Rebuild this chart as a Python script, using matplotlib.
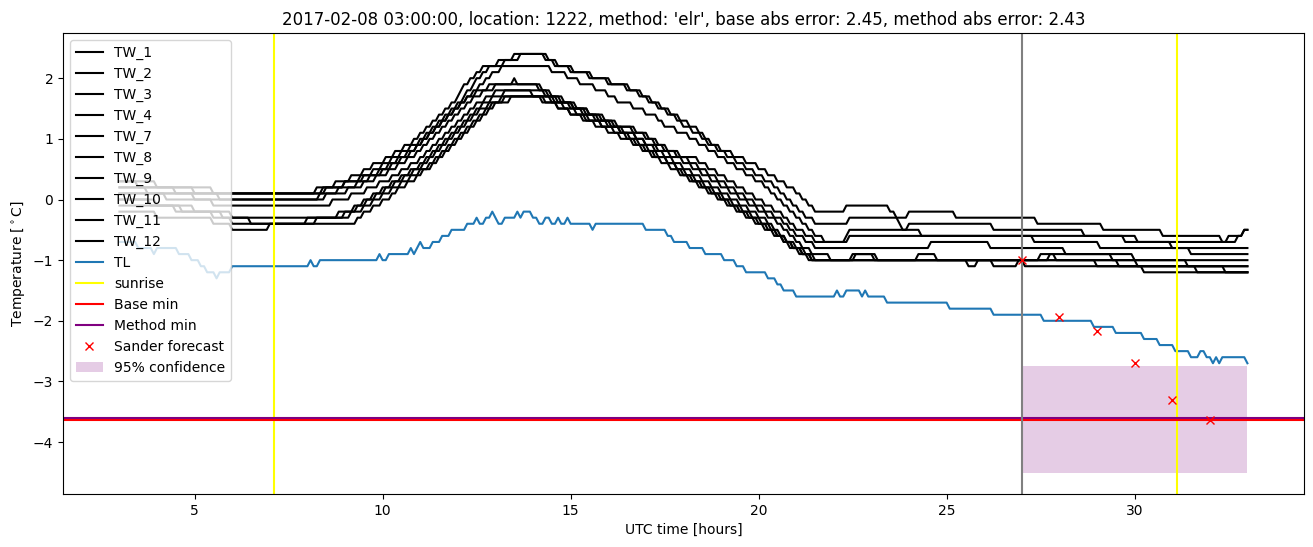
import numpy as np
import matplotlib
matplotlib.use("Agg")
import matplotlib.pyplot as plt

# 5-minute samples from 03:00 to 33:00 UTC (hours since 2017-02-07 00:00)
START, END, PER_HOUR = 3.0, 33.0, 12

# each series: (hour where the value starts, temperature) change points
TW_1 = [(3.0, 0.3), (3.5, 0.2), (5.0, 0.1), (8.25, 0.2), (8.75, 0.3), (9.17, 0.4), (9.5, 0.5),
        (9.75, 0.6), (10.08, 0.7), (10.33, 0.8), (10.58, 0.9), (10.83, 1.0), (11.0, 1.1),
        (11.17, 1.2), (11.33, 1.3), (11.5, 1.4), (11.67, 1.5), (11.83, 1.6), (12.0, 1.7),
        (12.08, 1.8), (12.17, 1.9), (12.33, 2.0), (12.5, 2.1), (12.67, 2.2), (13.08, 2.3),
        (13.5, 2.4), (14.42, 2.3), (14.67, 2.2), (15.08, 2.1), (15.58, 2.0), (16.08, 1.9),
        (16.58, 1.8), (16.92, 1.7), (17.17, 1.6), (17.42, 1.5), (17.67, 1.4), (17.92, 1.3),
        (18.17, 1.2), (18.42, 1.1), (18.58, 1.0), (18.75, 0.9), (19.0, 0.8), (19.33, 0.7),
        (19.67, 0.6), (20.0, 0.5), (20.25, 0.4), (20.5, 0.3), (20.75, 0.2), (21.0, 0.1),
        (21.17, 0.0), (21.33, -0.1), (21.5, -0.2), (22.33, -0.1), (23.5, -0.2), (23.67, -0.3),
        (24.0, -0.2), (25.25, -0.3), (27.42, -0.4), (29.17, -0.5), (30.75, -0.6), (32.33, -0.7),
        (32.5, -0.6), (32.92, -0.5)]
TW_2 = [(3.0, 0.3), (4.0, 0.2), (5.5, 0.1), (8.5, 0.2), (9.0, 0.3), (9.42, 0.4), (9.75, 0.5),
        (10.0, 0.6), (10.25, 0.7), (10.5, 0.8), (10.75, 0.9), (11.0, 1.0), (11.17, 1.1),
        (11.33, 1.2), (11.5, 1.3), (11.67, 1.4), (11.83, 1.5), (12.0, 1.6), (12.17, 1.7),
        (12.25, 1.8), (12.42, 1.9), (12.5, 2.0), (12.67, 2.1), (12.83, 2.2), (13.25, 2.3),
        (13.67, 2.4), (14.33, 2.3), (14.58, 2.2), (15.0, 2.1), (15.5, 2.0), (16.0, 1.9),
        (16.5, 1.8), (16.83, 1.7), (17.08, 1.6), (17.33, 1.5), (17.58, 1.4), (17.83, 1.3),
        (18.0, 1.2), (18.25, 1.1), (18.5, 1.0), (18.67, 0.9), (18.92, 0.8), (19.17, 0.7),
        (19.42, 0.6), (19.67, 0.5), (19.92, 0.4), (20.17, 0.3), (20.42, 0.2), (20.58, 0.1),
        (20.75, 0.0), (20.92, -0.1), (21.08, -0.2), (21.25, -0.3), (21.5, -0.4), (22.42, -0.3),
        (23.75, -0.4), (23.83, -0.5), (24.0, -0.4), (26.25, -0.5), (28.67, -0.6), (29.75, -0.7),
        (31.0, -0.8)]
TW_3 = [(3.0, 0.2), (4.5, 0.1), (5.67, 0.0), (8.33, 0.1), (8.83, 0.2), (9.33, 0.3), (9.67, 0.4),
        (10.0, 0.5), (10.25, 0.6), (10.5, 0.7), (10.75, 0.8), (10.92, 0.9), (11.08, 1.0),
        (11.25, 1.1), (11.42, 1.2), (11.58, 1.3), (11.75, 1.4), (11.92, 1.5), (12.08, 1.6),
        (12.25, 1.7), (12.42, 1.8), (12.58, 1.9), (12.75, 2.0), (12.92, 2.1), (13.17, 2.2),
        (14.5, 2.1), (14.92, 2.0), (15.25, 1.9), (15.67, 1.8), (16.0, 1.7), (16.25, 1.6),
        (16.67, 1.5), (17.0, 1.4), (17.33, 1.3), (17.5, 1.2), (17.83, 1.1), (18.17, 1.0),
        (18.42, 0.9), (18.67, 0.8), (18.92, 0.7), (19.17, 0.6), (19.42, 0.5), (19.67, 0.4),
        (19.92, 0.3), (20.17, 0.2), (20.33, 0.1), (20.5, 0.0), (20.67, -0.1), (20.83, -0.2),
        (21.0, -0.3), (21.17, -0.4), (21.33, -0.5), (21.5, -0.6), (21.75, -0.7), (22.33, -0.6),
        (22.42, -0.5), (24.33, -0.6), (30.08, -0.7), (32.75, -0.6), (32.92, -0.5)]
TW_4 = [(3.0, 0.2), (3.75, 0.1), (8.42, 0.2), (9.0, 0.3), (9.5, 0.4), (9.92, 0.5), (10.17, 0.6),
        (10.42, 0.7), (10.67, 0.8), (10.92, 0.9), (11.08, 1.0), (11.25, 1.1), (11.42, 1.2),
        (11.58, 1.3), (11.75, 1.4), (11.92, 1.5), (12.08, 1.6), (12.25, 1.7), (12.5, 1.8),
        (12.83, 1.9), (13.5, 2.0), (13.58, 1.9), (14.25, 1.8), (14.5, 1.7), (14.83, 1.6),
        (15.17, 1.5), (15.5, 1.4), (15.83, 1.3), (16.17, 1.2), (16.67, 1.1), (17.0, 1.0),
        (17.25, 0.9), (17.5, 0.8), (17.83, 0.7), (18.42, 0.6), (18.67, 0.5), (18.92, 0.4),
        (19.17, 0.3), (19.42, 0.2), (19.67, 0.1), (19.92, 0.0), (20.17, -0.1), (20.42, -0.2),
        (20.67, -0.3), (20.83, -0.4), (21.0, -0.5), (21.25, -0.6), (21.5, -0.7), (22.42, -0.6),
        (27.33, -0.7), (29.08, -0.8), (31.5, -0.9)]
TW_7 = [(3.0, 0.1), (5.0, 0.0), (8.5, 0.1), (9.08, 0.2), (9.5, 0.3), (9.83, 0.4), (10.17, 0.5),
        (10.42, 0.6), (10.67, 0.7), (10.92, 0.8), (11.08, 0.9), (11.25, 1.0), (11.42, 1.1),
        (11.58, 1.2), (11.75, 1.3), (11.92, 1.4), (12.08, 1.5), (12.25, 1.6), (12.42, 1.7),
        (12.67, 1.8), (13.0, 1.9), (14.17, 1.8), (14.42, 1.7), (14.75, 1.6), (15.08, 1.5),
        (15.5, 1.4), (15.92, 1.3), (16.25, 1.2), (16.75, 1.1), (17.08, 1.0), (17.33, 0.9),
        (17.58, 0.8), (17.92, 0.7), (18.17, 0.6), (18.42, 0.5), (18.67, 0.4), (18.92, 0.3),
        (19.17, 0.2), (19.42, 0.1), (19.67, 0.0), (19.92, -0.1), (20.17, -0.2), (20.42, -0.3),
        (20.67, -0.4), (20.83, -0.5), (21.0, -0.6), (21.25, -0.7), (21.5, -0.8), (24.58, -0.7),
        (26.17, -0.8), (28.17, -0.9), (29.42, -1.0)]
TW_8 = [(3.0, 0.1), (4.25, 0.0), (5.5, -0.1), (8.67, 0.0), (9.17, 0.1), (9.58, 0.2), (9.92, 0.3),
        (10.25, 0.4), (10.5, 0.5), (10.75, 0.6), (11.0, 0.7), (11.17, 0.8), (11.33, 0.9),
        (11.5, 1.0), (11.67, 1.1), (11.83, 1.2), (12.0, 1.3), (12.17, 1.4), (12.33, 1.5),
        (12.5, 1.6), (12.75, 1.7), (13.0, 1.8), (14.0, 1.7), (14.33, 1.6), (14.67, 1.5),
        (15.0, 1.4), (15.42, 1.3), (15.83, 1.2), (16.33, 1.1), (16.75, 1.0), (17.0, 0.9),
        (17.33, 0.8), (17.67, 0.7), (18.0, 0.6), (18.25, 0.5), (18.5, 0.4), (18.75, 0.3),
        (19.0, 0.2), (19.25, 0.1), (19.5, 0.0), (19.75, -0.1), (20.0, -0.2), (20.25, -0.3),
        (20.5, -0.4), (20.67, -0.5), (20.83, -0.6), (21.0, -0.7), (21.17, -0.8), (21.42, -0.9),
        (21.92, -1.0), (27.5, -0.9), (30.0, -1.0), (31.42, -1.1)]
TW_9 = [(3.0, 0.0), (4.0, -0.1), (5.0, -0.2), (6.0, -0.3), (8.83, -0.2), (9.25, -0.1), (9.5, 0.0),
        (9.75, 0.1), (10.0, 0.2), (10.25, 0.3), (10.5, 0.4), (10.75, 0.5), (11.0, 0.6),
        (11.17, 0.7), (11.33, 0.8), (11.5, 0.9), (11.67, 1.0), (11.83, 1.1), (12.0, 1.2),
        (12.17, 1.3), (12.33, 1.4), (12.5, 1.5), (12.67, 1.6), (12.92, 1.7), (13.25, 1.8),
        (14.33, 1.7), (14.67, 1.6), (15.08, 1.5), (15.42, 1.4), (15.75, 1.3), (16.08, 1.2),
        (16.42, 1.1), (16.75, 1.0), (17.0, 0.9), (17.25, 0.8), (17.5, 0.7), (17.75, 0.6),
        (18.0, 0.5), (18.25, 0.4), (18.5, 0.3), (18.75, 0.2), (19.0, 0.1), (19.25, 0.0),
        (19.5, -0.1), (19.75, -0.2), (20.0, -0.3), (20.25, -0.4), (20.42, -0.5), (20.58, -0.6),
        (20.75, -0.7), (20.92, -0.8), (21.17, -0.9), (21.42, -1.0), (22.5, -0.9), (23.17, -1.0),
        (25.58, -1.1), (25.83, -1.0), (26.25, -1.1), (26.92, -1.0), (27.08, -1.1), (30.25, -1.2)]
TW_10 = [(3.0, 0.0), (3.83, -0.1), (4.67, -0.2), (5.5, -0.3), (6.0, -0.4), (8.0, -0.3), (9.0, -0.2),
         (9.33, -0.1), (9.58, 0.0), (9.83, 0.1), (10.08, 0.2), (10.33, 0.3), (10.58, 0.4),
         (10.83, 0.5), (11.08, 0.6), (11.25, 0.7), (11.42, 0.8), (11.58, 0.9), (11.75, 1.0),
         (11.92, 1.1), (12.08, 1.2), (12.25, 1.3), (12.42, 1.4), (12.58, 1.5), (12.83, 1.6),
         (13.17, 1.7), (14.5, 1.6), (14.83, 1.5), (15.17, 1.4), (15.5, 1.3), (15.83, 1.2),
         (16.17, 1.1), (16.5, 1.0), (16.75, 0.9), (17.0, 0.8), (17.25, 0.7), (17.58, 0.6),
         (17.83, 0.5), (18.08, 0.4), (18.33, 0.3), (18.58, 0.2), (18.83, 0.1), (19.08, 0.0),
         (19.33, -0.1), (19.58, -0.2), (19.83, -0.3), (20.08, -0.4), (20.33, -0.5), (20.5, -0.6),
         (20.67, -0.7), (20.83, -0.8), (21.08, -0.9), (21.33, -1.0), (27.75, -0.9), (27.92, -1.0),
         (30.08, -1.1), (31.67, -1.2)]
TW_11 = [(3.0, -0.1), (4.5, -0.2), (5.75, -0.3), (6.5, -0.4), (8.25, -0.3), (9.17, -0.2), (9.5, -0.1),
         (9.75, 0.0), (10.0, 0.1), (10.25, 0.2), (10.5, 0.3), (10.75, 0.4), (11.0, 0.5),
         (11.25, 0.6), (11.42, 0.7), (11.58, 0.8), (11.75, 0.9), (11.92, 1.0), (12.08, 1.1),
         (12.25, 1.2), (12.42, 1.3), (12.58, 1.4), (12.75, 1.5), (12.92, 1.6), (13.25, 1.7),
         (14.58, 1.6), (15.0, 1.5), (15.33, 1.4), (15.67, 1.3), (16.0, 1.2), (16.33, 1.1),
         (16.58, 1.0), (16.83, 0.9), (17.08, 0.8), (17.33, 0.7), (17.58, 0.6), (17.83, 0.5),
         (18.0, 0.4), (18.25, 0.3), (18.5, 0.2), (18.75, 0.1), (19.0, 0.0), (19.25, -0.1),
         (19.5, -0.2), (19.75, -0.3), (20.0, -0.4), (20.25, -0.5), (20.5, -0.6), (20.75, -0.7),
         (21.0, -0.8), (21.25, -0.9), (21.5, -1.0), (22.58, -0.9), (23.08, -1.0), (24.25, -0.9),
         (24.75, -1.0), (29.0, -1.1)]
TW_12 = [(3.0, -0.2), (4.0, -0.3), (5.5, -0.4), (6.0, -0.5), (7.0, -0.4), (9.33, -0.3), (9.5, -0.2),
         (9.75, -0.1), (10.0, 0.0), (10.25, 0.1), (10.42, 0.2), (10.67, 0.3), (10.92, 0.4),
         (11.08, 0.5), (11.33, 0.6), (11.5, 0.7), (11.67, 0.8), (11.83, 0.9), (12.0, 1.0),
         (12.17, 1.1), (12.33, 1.2), (12.5, 1.3), (12.67, 1.4), (12.83, 1.5), (13.0, 1.6),
         (13.42, 1.7), (14.25, 1.6), (14.67, 1.5), (15.0, 1.4), (15.33, 1.3), (15.67, 1.2),
         (16.0, 1.1), (16.33, 1.0), (16.67, 0.9), (16.92, 0.8), (17.17, 0.7), (17.42, 0.6),
         (17.67, 0.5), (17.92, 0.4), (18.17, 0.3), (18.42, 0.2), (18.67, 0.1), (18.92, 0.0),
         (19.17, -0.1), (19.42, -0.2), (19.67, -0.3), (19.92, -0.4), (20.17, -0.5), (20.42, -0.6),
         (20.67, -0.7), (20.92, -0.8), (21.17, -0.9), (21.42, -1.0), (29.58, -1.1), (32.42, -1.2)]

TL = [(3.0, -0.7), (3.5, -0.8), (3.92, -0.9), (4.0, -0.8), (4.58, -0.9), (4.92, -1.0), (5.17, -1.1),
      (5.33, -1.2), (5.58, -1.3), (5.67, -1.2), (6.0, -1.1), (8.08, -1.0), (8.17, -1.1), (8.33, -1.0),
      (9.92, -0.9), (10.0, -1.0), (10.17, -0.9), (10.75, -0.8), (10.83, -0.9), (10.92, -0.8),
      (11.0, -0.7), (11.08, -0.8), (11.33, -0.7), (11.58, -0.6), (11.83, -0.5), (12.25, -0.4),
      (12.5, -0.3), (12.58, -0.4), (12.75, -0.3), (12.92, -0.2), (13.0, -0.3), (13.08, -0.4),
      (13.25, -0.3), (13.58, -0.2), (13.67, -0.3), (13.75, -0.2), (14.0, -0.3), (14.17, -0.4),
      (14.33, -0.3), (14.5, -0.4), (14.67, -0.3), (14.75, -0.4), (14.92, -0.3), (15.0, -0.4),
      (15.58, -0.5), (15.67, -0.4), (17.0, -0.5), (17.58, -0.6), (17.75, -0.7), (18.17, -0.8),
      (18.58, -0.9), (19.08, -1.0), (19.42, -1.1), (19.67, -1.2), (20.25, -1.3), (20.5, -1.4),
      (20.67, -1.5), (21.0, -1.6), (22.08, -1.5), (22.17, -1.6), (22.33, -1.5), (22.75, -1.6),
      (22.83, -1.5), (22.92, -1.6), (23.42, -1.7), (25.08, -1.8), (26.25, -1.9), (27.58, -2.0),
      (28.92, -2.1), (29.5, -2.2), (30.25, -2.3), (30.67, -2.4), (31.08, -2.5), (31.5, -2.6),
      (31.75, -2.5), (31.92, -2.6), (32.08, -2.7), (32.17, -2.6), (32.25, -2.7), (32.33, -2.6),
      (33.0, -2.7)]

TW_NAMES = ["TW_1", "TW_2", "TW_3", "TW_4", "TW_7", "TW_8", "TW_9", "TW_10", "TW_11", "TW_12"]
TW_SERIES = [TW_1, TW_2, TW_3, TW_4, TW_7, TW_8, TW_9, TW_10, TW_11, TW_12]

SUNRISE = [7.12, 31.12]
FORECAST_START = 27.0
BASE_MIN = -3.63
METHOD_MIN = -3.61
SANDER_HOURS = [27, 28, 29, 30, 31, 32]
SANDER_TEMPS = [-1.0, -1.93, -2.17, -2.70, -3.31, -3.63]
CONF_HOURS = [27, 33]
CONF_LOW = -4.51
CONF_HIGH = -2.74

TITLE = ("2017-02-08 03:00:00, location: 1222, method: 'elr', "
         "base abs error: 2.45, method abs error: 2.43")


def expand(points):
    """Turn (hour, value) change points into a 5-minute series."""
    hours = np.array([p[0] for p in points])
    vals = np.array([p[1] for p in points])
    n = int(round((END - START) * PER_HOUR)) + 1
    starts = np.round((hours - START) * PER_HOUR).astype(int)
    counts = np.diff(np.append(starts, n))
    return np.repeat(vals, counts)


t = START + np.arange(int(round((END - START) * PER_HOUR)) + 1) / PER_HOUR

fig = plt.figure(figsize=(13.13, 5.47), dpi=100)
ax = fig.add_axes([0.048, 0.0969, 0.945, 0.8428])

for name, pts in zip(TW_NAMES, TW_SERIES):
    ax.plot(t, expand(pts), color="black", label=name)
ax.plot(t, expand(TL), color="C0", label="TL")

for i, s in enumerate(SUNRISE):
    ax.axvline(s, color="yellow", label="sunrise" if i == 0 else None)
ax.axhline(BASE_MIN, color="red", label="Base min")
ax.axhline(METHOD_MIN, color="purple", label="Method min")
ax.axvline(FORECAST_START, color="gray")
ax.plot(SANDER_HOURS, SANDER_TEMPS, "rx", label="Sander forecast")
ax.fill_between(CONF_HOURS, CONF_LOW, CONF_HIGH, color="purple", alpha=0.2,
                linewidth=0, label="95% confidence")

ax.set_title(TITLE)
ax.set_xlabel("UTC time [hours]")
ax.set_ylabel(r"Temperature [$^\circ$C]")
ax.legend(loc="upper left")

fig.savefig("out.png")
